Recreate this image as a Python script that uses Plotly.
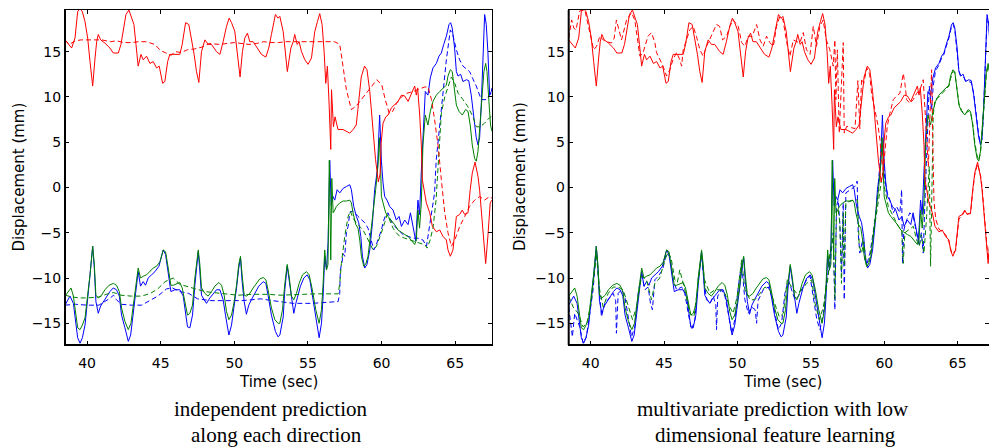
import plotly.graph_objects as go

# ---------------- data ----------------
# ground truth (solid) - identical in both panels
red_true_t = [38.5,38.95,39.18,39.36,39.52,39.68,39.86,40.04,40.2,40.38,40.54,40.65,40.76,40.92,41.21,41.55,41.78,42.12,42.3,42.46,42.64,42.84,43.02,43.18,43.32,43.47,43.66,43.81,44.04,44.27,44.49,44.72,44.9,45.13,45.28,45.47,45.62,45.85,46.3,46.46,46.69,46.91,47.09,47.27,47.43,47.59,47.77,48.0,48.22,48.45,48.79,49.02,49.24,49.47,49.65,49.81,50.03,50.21,50.39,50.55,50.71,50.89,51.05,51.28,51.57,51.84,52.14,52.34,52.52,52.79,52.97,53.09,53.32,53.5,53.6,53.84,54.0,54.1,54.27,54.4,54.56,54.79,55.01,55.24,55.46,55.65,55.8,55.96,56.1,56.21,56.32,56.44,56.55,56.6,56.73,56.84,56.95,57.04,57.38,57.6,57.84,58.07,58.28,58.39,58.52,58.62,58.84,59.01,59.2,59.4,59.59,59.78,59.9,59.97,60.1,60.29,60.44,60.67,60.89,61.12,61.35,61.57,61.8,62.02,62.25,62.36,62.45,62.59,62.7,62.77,63.04,63.27,63.45,63.72,63.95,64.17,64.4,64.51,64.67,64.85,64.96,65.08,65.3,65.48,65.65,65.87,66.02,66.16,66.35,66.55,66.66,66.89,67.07,67.22,67.38,67.5]
red_true_v = [16.3,15.4,16.5,19.4,19.8,19.4,18.3,16.5,13.9,11.2,14.3,16.1,16.9,16.3,15.95,15.4,14.85,14.85,15.8,17.25,19.1,19.6,18.7,18.0,15.8,13.4,14.7,14.1,14.5,13.7,13.9,13.2,13.4,11.5,11.7,13.9,14.7,14.7,14.7,15.8,18.2,18.0,16.5,14.7,12.8,11.6,15.0,16.3,15.8,15.8,15.0,14.7,16.1,17.8,18.7,18.2,17.25,14.7,12.2,15.0,16.5,17.05,16.1,16.1,15.4,14.7,14.4,15.4,16.9,19.1,18.7,18.9,17.2,14.7,12.8,15.4,16.1,16.9,15.8,16.1,15.0,14.1,13.6,14.3,17.2,18.35,19.2,18.0,15.0,11.5,13.4,9.1,4.2,10.8,6.7,7.8,7.0,6.4,6.4,6.2,6.0,6.4,6.9,8.6,10.6,12.2,13.4,13.0,10.6,6.7,3.1,0.6,1.5,4.9,7.1,7.8,8.0,8.8,9.1,9.5,10.2,10.1,9.5,10.4,11.2,10.2,11.0,8.0,4.7,0.85,-1.7,-2.8,-4.3,-4.9,-4.7,-5.4,-5.8,-6.9,-7.6,-6.9,-5.0,-3.2,-3.0,-2.5,-3.0,-2.8,-0.25,1.6,2.8,1.2,-0.3,-4.7,-8.4,-5.4,-1.7,-1.4]

green_true_t = [38.5,38.73,38.91,39.07,39.22,39.36,39.52,39.68,39.86,40.04,40.2,40.38,40.49,40.6,40.76,40.99,41.21,41.49,41.78,42.0,42.19,42.34,42.57,42.8,42.98,43.14,43.29,43.47,43.63,43.81,44.04,44.27,44.49,44.72,44.95,45.17,45.33,45.51,45.69,45.85,46.08,46.3,46.46,46.64,46.82,46.98,47.16,47.32,47.55,47.66,47.77,48.0,48.22,48.45,48.68,48.95,49.13,49.31,49.47,49.63,49.81,49.99,50.15,50.3,50.42,50.53,50.67,50.82,51.05,51.28,51.5,51.73,51.96,52.14,52.29,52.52,52.75,52.97,53.09,53.27,53.43,53.59,53.72,53.88,54.04,54.22,54.4,54.63,54.9,55.08,55.3,55.53,55.76,55.92,56.03,56.14,56.26,56.36,56.45,56.55,56.62,56.71,56.82,56.93,57.16,57.39,57.61,57.84,57.95,58.06,58.25,58.4,58.52,58.63,58.79,58.92,59.08,59.24,59.42,59.6,59.76,59.85,59.94,59.99,60.1,60.28,60.44,60.67,60.89,61.12,61.35,61.57,61.8,62.02,62.25,62.36,62.47,62.58,62.7,62.81,62.97,63.15,63.31,63.49,63.72,63.95,64.17,64.4,64.51,64.67,64.8,64.96,65.08,65.26,65.48,65.71,65.87,66.02,66.16,66.32,66.43,66.55,66.66,66.82,66.95,67.07,67.16,67.29,67.4,67.5]
green_true_v = [-12.0,-11.5,-11.1,-12.0,-13.7,-15.5,-15.7,-15.2,-14.4,-12.2,-9.65,-6.5,-8.5,-11.9,-12.2,-11.9,-11.3,-10.8,-10.6,-10.8,-11.5,-13.3,-14.8,-15.7,-15.0,-13.0,-10.8,-8.9,-10.0,-9.8,-9.65,-9.3,-8.9,-8.7,-8.2,-6.9,-7.1,-8.9,-10.8,-10.8,-10.6,-10.5,-11.1,-12.6,-14.1,-13.9,-13.0,-10.0,-6.9,-8.5,-11.1,-11.7,-12.0,-11.5,-10.9,-10.5,-10.8,-11.9,-13.7,-14.6,-14.1,-12.6,-10.8,-8.5,-7.6,-9.65,-11.9,-12.0,-11.7,-11.1,-10.6,-10.1,-9.95,-10.2,-11.3,-13.3,-14.6,-15.0,-15.0,-13.5,-10.6,-8.5,-9.8,-12.0,-12.4,-11.7,-10.6,-9.65,-9.3,-9.65,-11.3,-13.5,-15.0,-13.5,-10.6,-6.9,-9.1,-8.5,3.0,-8.0,1.0,-2.8,-2.5,-2.1,-1.7,-1.5,-1.5,-1.4,-1.7,-2.8,-4.1,-4.5,-5.8,-7.6,-8.7,-8.5,-7.6,-5.4,-3.2,-0.25,2.5,5.5,1.8,-1.0,-1.7,-2.8,-3.2,-3.6,-4.1,-4.7,-5.0,-5.2,-5.4,-5.8,-6.3,-5.8,-2.5,-4.5,-1.7,4.7,8.0,6.9,8.4,9.5,10.2,10.6,11.0,11.3,12.3,13.0,12.8,10.6,9.1,8.4,8.0,8.6,8.4,6.9,4.7,3.2,2.9,4.0,6.2,9.9,12.8,13.7,12.8,9.5,6.9,6.2]

blue_true_t = [38.5,38.84,39.07,39.22,39.36,39.52,39.68,39.86,40.04,40.2,40.38,40.49,40.6,40.76,40.92,41.1,41.33,41.55,41.78,42.0,42.19,42.34,42.57,42.8,42.96,43.14,43.29,43.47,43.63,43.81,43.97,44.15,44.38,44.61,44.88,45.17,45.33,45.51,45.69,45.96,46.3,46.53,46.69,46.82,46.98,47.16,47.32,47.55,47.66,47.77,47.95,48.11,48.34,48.56,48.79,49.02,49.24,49.4,49.63,49.81,49.99,50.15,50.3,50.42,50.53,50.67,50.82,50.98,51.16,51.39,51.66,51.96,52.14,52.29,52.52,52.79,52.97,53.09,53.32,53.43,53.59,53.72,53.88,54.04,54.18,54.33,54.49,54.72,54.95,55.13,55.3,55.53,55.76,55.92,56.03,56.14,56.26,56.37,56.48,56.58,56.7,56.82,56.98,57.16,57.39,57.61,57.84,57.95,58.11,58.29,58.45,58.59,58.7,58.86,59.01,59.2,59.38,59.53,59.72,59.87,59.99,60.1,60.21,60.37,60.55,60.78,61.0,61.19,61.35,61.57,61.8,61.96,62.14,62.32,62.47,62.58,62.7,62.81,62.97,63.15,63.31,63.49,63.72,63.9,64.06,64.22,64.4,64.58,64.69,64.8,64.96,65.08,65.19,65.37,65.53,65.76,65.92,66.09,66.25,66.43,66.55,66.66,66.77,66.89,67.0,67.11,67.22,67.34,67.45,67.5]
blue_true_v = [-13.0,-12.0,-12.8,-14.8,-16.6,-17.2,-16.6,-15.2,-12.6,-9.65,-6.5,-8.9,-12.6,-13.9,-13.1,-12.6,-12.0,-11.5,-11.1,-11.3,-12.0,-14.1,-15.5,-17.0,-16.3,-13.7,-11.3,-9.3,-10.9,-10.4,-10.8,-10.0,-9.65,-9.3,-8.7,-6.9,-7.4,-9.3,-11.5,-11.3,-11.3,-12.0,-13.7,-15.4,-15.5,-14.1,-10.8,-7.1,-9.3,-11.9,-12.4,-12.8,-12.2,-11.7,-11.3,-11.3,-12.4,-14.1,-16.3,-15.2,-13.3,-11.1,-8.9,-7.8,-10.4,-12.6,-14.0,-13.0,-12.4,-11.7,-10.9,-10.4,-10.6,-11.9,-14.1,-15.9,-16.5,-16.3,-14.3,-11.3,-8.7,-10.2,-12.4,-13.9,-12.8,-12.0,-10.9,-10.0,-9.65,-10.2,-12.0,-14.3,-16.6,-15.0,-12.0,-7.6,-9.1,-6.0,3.0,-2.0,-1.0,-1.4,-0.25,-0.6,-0.1,0.1,0.3,-0.25,-2.1,-3.2,-3.9,-5.4,-7.6,-8.9,-8.5,-6.9,-3.9,-0.25,2.0,8.0,2.9,0.5,-1.0,-1.4,-2.1,-2.5,-3.6,-3.2,-4.3,-3.6,-4.1,-2.8,-4.3,-5.9,-1.4,-3.0,1.8,6.2,10.6,10.2,12.1,13.2,13.7,14.5,14.85,15.8,16.7,18.0,18.2,17.6,15.4,12.8,12.3,12.5,11.7,11.9,11.8,10.2,8.0,5.5,4.7,5.5,9.1,14.7,19.1,18.0,15.0,10.2,10.6,11.0]

# independent prediction along each direction (dashed, left panel)
red_ind_t = [38.5,38.8,39.2,39.6,40.2,41.0,41.6,42.0,42.5,43.0,43.5,44.0,44.6,45.0,45.3,45.7,46.0,46.4,46.8,47.3,47.8,48.3,49.0,49.5,50.0,51.0,51.5,52.0,52.5,53.0,53.5,54.0,55.0,56.0,56.8,57.05,57.16,57.38,57.61,57.95,58.28,58.62,58.95,59.2,59.46,59.68,60.02,60.25,60.52,60.75,61.02,61.36,61.7,62.15,62.6,62.94,63.16,63.39,63.6,63.84,64.06,64.29,64.51,64.74,64.97,65.31,65.65,65.98,66.32,66.66,67.0,67.33,67.5]
red_ind_v = [16.3,15.8,16.2,16.3,16.3,16.3,16.1,16.2,16.0,16.0,16.1,16.1,15.8,15.1,14.9,14.6,15.0,14.9,15.2,15.3,15.5,15.9,15.8,15.9,16.0,15.8,15.9,16.1,16.0,16.0,16.1,16.1,16.1,16.1,16.1,15.9,15.8,13.4,10.8,8.6,9.0,9.7,10.4,11.0,11.5,11.9,11.3,9.7,8.2,8.4,9.3,10.0,10.4,10.6,10.9,11.1,11.1,9.7,7.5,4.6,0.85,-2.8,-5.0,-6.5,-5.8,-4.3,-3.2,-2.1,-1.4,-1.0,-1.4,-1.0,-1.2]

green_ind_t = [38.5,39.0,39.5,40.0,40.8,41.3,41.8,42.3,43.0,43.7,44.3,44.8,45.3,45.85,46.3,47.1,48.0,49.1,50.26,51.2,52.3,53.1,54.5,55.5,57.05,57.16,57.27,57.39,57.5,57.61,57.73,57.88,58.06,58.29,58.52,58.74,58.97,59.2,59.42,59.65,59.83,59.99,60.21,60.37,60.55,60.78,61.0,61.23,61.57,61.91,62.25,62.59,62.93,63.1,63.3,63.5,63.7,63.84,63.96,64.06,64.29,64.51,64.74,64.97,65.2,65.53,65.87,66.21,66.43,66.7,66.99,67.33,67.5]
green_ind_v = [-11.9,-12.1,-12.2,-12.2,-12.1,-11.8,-11.6,-11.9,-12.0,-12.0,-11.7,-11.2,-10.4,-10.0,-10.7,-11.1,-11.5,-11.7,-11.9,-11.8,-11.8,-11.9,-11.8,-11.75,-11.75,-10.6,-8.4,-6.5,-5.4,-4.3,-3.2,-2.6,-3.4,-3.9,-4.3,-4.7,-5.4,-6.15,-6.9,-6.5,-5.8,-5.0,-3.9,-3.0,-3.6,-4.5,-5.0,-5.4,-5.6,-5.8,-6.0,-6.15,-6.3,-6.7,-5.8,-4.4,-1.4,2.3,5.3,8.2,10.0,11.1,12.2,11.5,10.4,9.7,8.9,7.8,6.7,6.7,7.1,7.7,7.9]

blue_ind_t = [38.5,39.2,40.0,40.8,41.2,41.5,41.8,42.0,42.3,43.0,43.7,44.3,44.8,45.1,45.4,45.8,46.3,46.9,47.5,48.4,49.5,50.5,51.2,51.8,52.6,53.1,54.0,55.3,56.2,57.05,57.16,57.2,57.3,57.39,57.5,57.61,57.73,57.84,58.02,58.18,58.4,58.63,58.86,59.08,59.31,59.47,59.6,59.76,59.99,60.1,60.28,60.44,60.67,60.89,61.12,61.46,61.8,62.14,62.47,62.81,63.05,63.2,63.39,63.6,63.71,63.94,64.17,64.4,64.67,64.85,65.08,65.3,65.53,65.98,66.2,66.43,66.77,67.1,67.33,67.5]
blue_ind_v = [-13.0,-12.9,-13.0,-13.0,-12.6,-12.3,-11.9,-12.4,-12.9,-13.0,-13.0,-12.5,-12.0,-11.6,-11.2,-11.1,-11.5,-11.7,-12.3,-12.5,-12.5,-12.5,-12.4,-12.3,-12.5,-12.6,-12.8,-12.8,-12.7,-12.6,-11.7,-9.1,-8.4,-7.3,-7.6,-5.0,-4.3,-2.8,-2.6,-2.8,-3.2,-3.6,-3.9,-4.5,-5.8,-6.9,-6.5,-5.8,-4.7,-3.9,-3.0,-2.8,-3.8,-4.3,-4.7,-5.2,-5.4,-5.6,-5.6,-5.8,-6.5,-5.0,-3.2,-0.6,3.0,6.7,10.4,14.1,17.4,16.8,15.2,14.1,13.4,12.8,12.0,11.2,9.7,9.7,10.2,10.5]

# multivariate prediction with low dimensional feature learning (dashed, right panel)
red_mv_t = [38.5,38.7,38.85,39.0,39.25,39.6,39.94,40.2,40.4,40.62,40.85,41.07,41.41,41.6,41.75,41.87,42.1,42.44,42.78,43.0,43.35,43.55,43.75,43.9,44.14,44.37,44.48,44.7,44.93,45.16,45.39,45.6,45.85,46.07,46.19,46.3,46.53,46.75,46.98,47.2,47.44,47.66,47.89,48.1,48.35,48.57,48.78,48.98,49.25,49.48,49.7,50.05,50.28,50.5,50.73,51.0,51.3,51.53,51.75,51.98,52.2,52.44,52.66,52.89,53.1,53.35,53.57,53.8,54.03,54.25,54.48,54.7,54.94,55.16,55.38,55.61,55.83,56.05,56.29,56.52,56.63,56.7,56.8,56.93,57.08,57.2,57.27,57.43,57.77,58.0,58.2,58.33,58.45,58.6,58.8,59.0,59.13,59.36,59.58,59.7,59.81,59.93,60.04,60.2,60.38,60.61,60.83,61.06,61.29,61.4,61.52,61.74,61.97,62.2,62.43,62.65,62.77,62.88,63.0,63.11,63.22,63.29,63.38,63.5,63.72,63.95,64.17,64.4,64.6,64.85,64.96,65.08,65.3,65.48,65.65,65.87,66.02,66.16,66.35,66.55,66.66,66.89,67.07,67.22,67.38,67.5]
red_mv_v = [16.5,18.5,17.6,17.4,19.5,19.6,17.1,15.2,15.6,16.7,16.3,16.1,15.96,16.5,18.5,17.8,16.3,18.5,19.3,18.5,14.5,14.8,16.0,16.7,17.1,16.0,14.9,14.1,13.4,12.3,13.0,14.1,14.9,14.1,13.4,15.2,16.3,17.4,17.8,16.7,15.2,14.5,15.6,16.3,17.1,18.0,17.8,16.3,16.7,17.8,18.5,17.8,16.0,15.6,16.7,16.7,18.0,16.3,15.6,16.7,16.0,15.6,17.8,18.9,18.5,16.0,14.5,16.3,16.1,16.0,17.1,15.2,14.7,17.8,15.6,17.8,18.5,16.3,15.2,13.4,16.3,9.7,15.2,6.0,11.5,16.0,6.0,6.75,6.6,6.5,11.8,6.5,12.0,11.5,13.2,12.5,10.4,8.6,6.75,5.3,3.1,1.95,3.8,6.75,8.2,9.7,10.1,10.4,12.6,11.5,9.7,9.3,9.7,10.4,10.8,11.9,8.6,5.3,2.3,7.9,13.0,6.0,-1.4,-3.5,-4.6,-4.9,-5.2,-6.0,-7.3,-7.0,-5.3,-3.5,-3.1,-2.6,-2.9,-2.9,-0.5,1.4,2.6,1.4,0.0,-4.3,-8.0,-5.6,-2.0,-1.6]

green_mv_t = [38.5,38.8,39.14,39.48,39.75,40.05,40.39,40.57,40.85,41.19,41.53,41.87,42.21,42.55,42.85,43.12,43.46,43.8,44.14,44.37,44.7,45.05,45.28,45.5,45.73,45.9,46.07,46.2,46.41,46.75,47.03,47.32,47.55,47.75,48.12,48.46,48.8,49.14,49.48,49.7,49.98,50.28,50.5,50.85,51.19,51.53,51.87,52.2,52.55,52.85,53.12,53.39,53.69,54.03,54.37,54.7,55.05,55.28,55.57,55.85,56.18,56.29,56.52,56.63,56.74,56.86,56.97,57.08,57.2,57.27,57.38,57.65,57.99,58.18,58.29,58.45,58.6,58.79,59.0,59.2,59.47,59.7,59.88,60.04,60.27,60.49,60.72,60.95,61.18,61.29,61.4,61.63,61.97,62.2,62.38,62.52,62.7,62.88,63.06,63.15,63.24,63.33,63.45,63.72,63.95,64.17,64.4,64.51,64.67,64.8,64.96,65.08,65.26,65.48,65.71,65.87,66.02,66.16,66.32,66.43,66.55,66.66,66.82,66.95,67.07,67.16,67.29,67.4,67.5]
green_mv_v = [-12.0,-13.2,-13.9,-15.4,-15.0,-12.4,-7.3,-11.0,-13.2,-11.7,-11.0,-11.0,-11.3,-13.2,-14.6,-13.2,-9.8,-10.2,-12.4,-10.6,-10.0,-8.0,-7.1,-8.0,-10.2,-10.5,-9.1,-10.0,-11.3,-13.9,-14.3,-10.6,-7.3,-10.2,-11.7,-11.3,-11.3,-11.7,-13.2,-13.9,-12.0,-8.0,-11.3,-12.4,-12.4,-11.7,-11.0,-11.3,-12.8,-14.3,-13.9,-10.2,-11.0,-11.7,-11.3,-10.6,-10.2,-12.8,-14.6,-13.2,-9.8,-7.25,-5.5,-12.4,-2.8,-2.4,-4.0,-10.6,-2.8,-8.7,-1.7,-1.55,-1.35,-1.4,-6.5,-7.25,-6.0,-8.7,-8.0,-5.8,-2.8,0.1,1.6,-0.25,-2.1,-2.8,-3.6,-4.3,-4.6,-8.4,-5.0,-4.7,-4.3,-5.8,-6.5,-5.2,-7.25,-3.2,2.3,-8.7,2.3,7.9,9.7,10.0,10.4,10.8,11.2,12.0,12.8,12.7,10.8,9.3,8.5,8.1,8.4,8.3,7.1,5.0,3.5,3.0,3.8,5.9,9.5,12.4,13.4,12.9,9.8,7.2,6.4]

blue_mv_t = [38.5,38.62,38.75,38.91,39.07,39.25,39.48,39.7,39.94,40.16,40.39,40.57,40.73,40.96,41.19,41.53,41.7,41.75,41.87,42.1,42.32,42.55,42.78,43.0,43.23,43.46,43.69,43.91,44.07,44.2,44.37,44.6,44.89,45.16,45.39,45.62,45.85,46.19,46.41,46.64,46.87,47.1,47.32,47.55,47.71,47.89,48.12,48.35,48.52,48.57,48.65,48.91,49.14,49.37,49.6,49.82,50.05,50.28,50.5,50.73,50.96,51.2,51.3,51.4,51.75,52.1,52.32,52.55,52.78,53.0,53.23,53.46,53.69,53.91,54.15,54.48,54.7,54.94,55.16,55.4,55.62,55.85,56.07,56.29,56.52,56.63,56.74,56.86,56.97,57.08,57.2,57.27,57.38,57.65,57.99,58.15,58.22,58.33,58.52,58.68,58.83,59.02,59.24,59.47,59.65,59.81,59.93,60.04,60.2,60.38,60.61,60.83,61.06,61.18,61.24,61.33,61.52,61.74,61.97,62.2,62.38,62.52,62.65,62.77,62.88,63.06,63.22,63.33,63.49,63.72,63.9,64.06,64.22,64.4,64.58,64.69,64.8,64.96,65.08,65.19,65.37,65.53,65.76,65.92,66.09,66.25,66.43,66.55,66.66,66.77,66.89,67.0,67.11,67.22,67.34,67.45,67.5]
blue_mv_v = [-13.2,-14.6,-16.5,-13.9,-14.6,-15.4,-17.2,-16.5,-13.9,-11.3,-6.9,-11.3,-14.3,-12.8,-12.4,-11.7,-12.5,-16.1,-11.7,-11.3,-12.0,-14.3,-16.5,-15.4,-11.7,-9.5,-11.3,-11.0,-12.8,-13.5,-10.2,-9.8,-9.1,-7.3,-7.6,-10.2,-11.3,-11.0,-11.7,-13.9,-15.7,-14.6,-10.2,-7.3,-10.2,-12.4,-12.8,-12.0,-13.0,-15.7,-12.0,-11.3,-12.0,-13.9,-16.1,-14.6,-11.0,-8.4,-12.4,-13.9,-13.2,-13.5,-15.0,-12.5,-11.3,-11.0,-12.0,-13.9,-15.7,-15.0,-11.7,-10.2,-11.3,-12.4,-12.0,-11.0,-10.2,-9.8,-12.0,-14.6,-15.7,-13.9,-10.2,-8.7,-5.0,-13.5,-2.1,-1.4,-4.0,-9.5,-1.7,-12.4,-0.6,-0.25,0.1,0.7,-5.0,-7.25,-5.8,-8.0,-8.4,-7.25,-5.0,-2.1,1.6,4.9,3.1,0.85,-0.6,-1.4,-2.8,-2.1,-2.8,-0.25,-8.4,-4.7,-3.6,-2.8,-3.2,-5.0,-6.5,-5.0,-7.25,-1.4,3.8,11.2,8.6,11.2,12.9,13.5,14.3,14.7,15.6,16.5,17.8,18.0,17.4,15.2,12.9,12.4,12.3,11.8,11.7,11.6,10.4,8.3,5.8,4.9,5.3,8.8,14.3,18.7,18.2,15.3,10.5,10.4,10.8]

x_ticks = [40, 45, 50, 55, 60, 65]
y_ticks = [-15, -10, -5, 0, 5, 10, 15]

captions = [["independent prediction", "along each direction"],
            ["multivariate prediction with low", "dimensional feature learning"]]

# ---------------- figure ----------------
W, H = 989, 448
RED, BLUE, GREEN = "#ff0000", "#0000ff", "#008000"
DASH = "5px,3px"

fig = go.Figure()

panels = [
    ("x", "y", red_ind_t, red_ind_v, blue_ind_t, blue_ind_v, green_ind_t, green_ind_v),
    ("x2", "y2", red_mv_t, red_mv_v, blue_mv_t, blue_mv_v, green_mv_t, green_mv_v),
]
for xa, ya, rt, rv, bt, bv, gt, gv in panels:
    series = [
        (blue_true_t, blue_true_v, BLUE, "solid"),
        (bt, bv, BLUE, DASH),
        (green_true_t, green_true_v, GREEN, "solid"),
        (gt, gv, GREEN, DASH),
        (red_true_t, red_true_v, RED, "solid"),
        (rt, rv, RED, DASH),
    ]
    for t, v, c, d in series:
        fig.add_trace(go.Scatter(x=t, y=v, mode="lines", xaxis=xa, yaxis=ya,
                                 line=dict(color=c, width=1, dash=d),
                                 showlegend=False, hoverinfo="skip"))

ydom = [1 - 345 / H, 1 - 10 / H]
x1dom = [65 / W, 492 / W]
x2dom = [568.7 / W, 1.0]

tickfont = dict(family="DejaVu Sans", size=14, color="black")
common_x = dict(showgrid=False, zeroline=False, showline=True, linecolor="black",
                linewidth=1, mirror="ticks", ticks="inside", ticklen=4, tickwidth=1,
                tickcolor="black", tickvals=x_ticks, tickfont=tickfont,
                ticklabelstandoff=5)
common_y = dict(showgrid=False, zeroline=False, showline=True, linecolor="black",
                linewidth=1, mirror="ticks", ticks="inside", ticklen=4, tickwidth=1,
                tickcolor="black", tickvals=y_ticks, tickfont=tickfont,
                range=[-17.4, 19.6])

fig.update_layout(
    width=W, height=H, margin=dict(l=0, r=0, t=0, b=0),
    paper_bgcolor="white", plot_bgcolor="white",
    xaxis=dict(domain=x1dom, range=[38.5, 67.5], anchor="y", **common_x),
    yaxis=dict(domain=ydom, anchor="x", **common_y),
    xaxis2=dict(domain=x2dom, range=[38.5, 67.13], anchor="y2", **common_x),
    yaxis2=dict(domain=ydom, anchor="x2", **common_y),
)

# thicker left and bottom frame lines
for xr, yr in [("x domain", "y domain"), ("x2 domain", "y2 domain")]:
    fig.add_shape(type="line", xref=xr, yref=yr, x0=0, x1=1, y0=0, y1=0,
                  line=dict(color="black", width=2), layer="above")
    fig.add_shape(type="line", xref=xr, yref=yr, x0=0, x1=0, y0=0, y1=1,
                  line=dict(color="black", width=2), layer="above")

sans = dict(family="DejaVu Sans", size=15, color="black")
serif = dict(family="Liberation Serif", size=21, color="black")
for cx, ylab_x in [(278.5, 18.5), (782, 520)]:
    fig.add_annotation(text="Time (sec)", x=cx / W, y=1 - 381.7 / H, xref="paper", yref="paper",
                       showarrow=False, xanchor="center", yanchor="middle", font=sans)
    fig.add_annotation(text="Displacement (mm)", x=ylab_x / W, y=1 - 177 / H, xref="paper",
                       yref="paper", showarrow=False, textangle=-90, xanchor="center",
                       yanchor="middle", font=sans)
for (lines, (cx1, cx2)) in zip(captions, [(271, 276), (773, 775)]):
    fig.add_annotation(text=lines[0], x=cx1 / W, y=1 - 409 / H, xref="paper", yref="paper",
                       showarrow=False, xanchor="center", yanchor="middle", font=serif)
    fig.add_annotation(text=lines[1], x=cx2 / W, y=1 - 435 / H, xref="paper", yref="paper",
                       showarrow=False, xanchor="center", yanchor="middle", font=serif)

fig.write_html("out.html")
